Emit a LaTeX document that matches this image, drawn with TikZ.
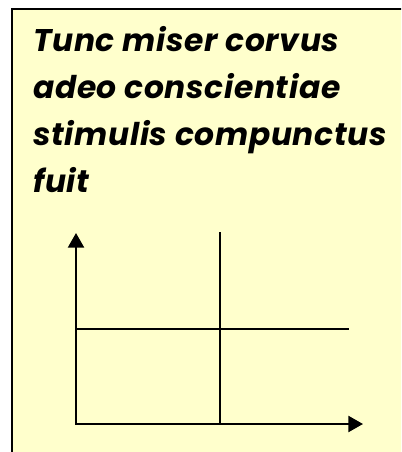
\documentclass[tikz,border=0pt]{standalone}
\usepackage{fontspec}
\setmainfont{Poppins}
\usetikzlibrary{arrows.meta}
\definecolor{Ink}{HTML}{000000}
\definecolor{Cream}{HTML}{FFFFCC}
\tikzset{
  frame/.style={draw=Ink, line width=2.2pt, fill=Cream},
  caption/.style={
    anchor=north west, inner sep=0pt, align=left,
    font=\fontsize{23.5}{35.25}\selectfont\bfseries\itshape\addfontfeature{LetterSpace=2}
  },
  axis/.style={{Triangle[length=11pt,width=12pt]}-{Triangle[length=11pt,width=12pt]}, line width=1.7pt, draw=Ink},
  rule/.style={line width=1.7pt, draw=Ink}
}
\begin{document}
\begin{tikzpicture}[x=0.75pt,y=-0.75pt]
  \clip (0,0) rectangle (401,452);
  \fill[white] (0,0) rectangle (401,452);
  \draw[frame] (12,9) rectangle (420,470);
  % text block
  \node[caption] (verse) at (33,26) {Tunc miser corvus\\adeo conscientiae\\stimulis compunctus\\fuit};
  % axes and the two rules
  \coordinate (origin) at (76,424);
  \coordinate (ytip) at (76,233);
  \coordinate (xtip) at (363,424);
  \coordinate (vtop) at (220,232);
  \coordinate (vbot) at (220,424);
  \coordinate (hleft) at (76,329);
  \coordinate (hright) at (349,329);
  \draw[axis] (ytip) -- (origin) -- (xtip);
  \draw[rule] (vtop) -- (vbot);
  \draw[rule] (hleft) -- (hright);
\end{tikzpicture}
\end{document}
